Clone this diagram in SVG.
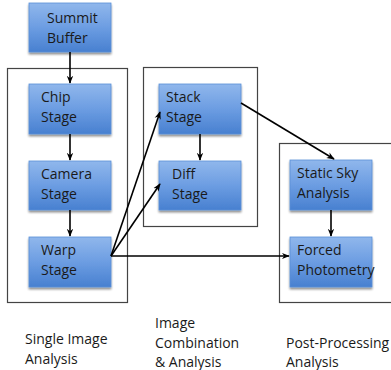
<svg xmlns="http://www.w3.org/2000/svg" width="391" height="370" viewBox="0 0 391 370">
<defs>
<linearGradient id="g" x1="0" y1="0" x2="0" y2="1">
<stop offset="0" stop-color="#90b7ec"/>
<stop offset="0.5" stop-color="#6c9de2"/>
<stop offset="1" stop-color="#4880d0"/>
</linearGradient>
<filter id="sh" x="-10%" y="-10%" width="130%" height="140%">
<feGaussianBlur in="SourceAlpha" stdDeviation="1.2"/>
<feOffset dx="0" dy="1.5" result="b"/>
<feComponentTransfer><feFuncA type="linear" slope="0.45"/></feComponentTransfer>
<feMerge><feMergeNode/><feMergeNode in="SourceGraphic"/></feMerge>
</filter>
<marker id="ah" viewBox="0 0 10 10" refX="9" refY="5" markerWidth="8" markerHeight="8" orient="auto" markerUnits="userSpaceOnUse">
<path d="M0,1 L10,5 L0,9 L3,5 Z" fill="#000"/>
</marker>
</defs>
<style>
.node{fill:url(#g);stroke:#5a8fd8;stroke-width:0.8;filter:url(#sh)}
.grp{fill:none;stroke:#444;stroke-width:1.2}
.t{font-family:"Open Sans","Liberation Sans",sans-serif;font-size:14px;fill:#1a1a1a}
.c{fill:none;stroke:#000;stroke-width:1.6;marker-end:url(#ah)}
</style>
<rect width="391" height="370" fill="#fff"/>
<g id="groups">
<rect class="grp" x="7.5" y="68.5" width="120" height="234"/>
<rect class="grp" x="143.5" y="67.5" width="114" height="159"/>
<rect class="grp" x="279.5" y="143.5" width="115" height="159"/>
</g>
<g id="summit"><rect class="node" x="29" y="3" width="82" height="49"/><text class="t" x="47" y="23">Summit</text><text class="t" x="47" y="43">Buffer</text></g>
<g id="chip"><rect class="node" x="29" y="84" width="82" height="50"/><text class="t" x="41" y="102">Chip</text><text class="t" x="41" y="122">Stage</text></g>
<g id="camera"><rect class="node" x="29" y="161" width="82" height="49"/><text class="t" x="41" y="179">Camera</text><text class="t" x="41" y="199">Stage</text></g>
<g id="warp"><rect class="node" x="29" y="237" width="82" height="50"/><text class="t" x="41" y="255">Warp</text><text class="t" x="41" y="275">Stage</text></g>
<g id="stack"><rect class="node" x="159" y="84" width="82" height="50"/><text class="t" x="166" y="102">Stack</text><text class="t" x="166" y="122">Stage</text></g>
<g id="diff"><rect class="node" x="159" y="161" width="82" height="49"/><text class="t" x="172" y="179">Diff</text><text class="t" x="172" y="199">Stage</text></g>
<g id="static"><rect class="node" x="290" y="160" width="82" height="50"/><text class="t" x="297" y="178">Static Sky</text><text class="t" x="297" y="198">Analysis</text></g>
<g id="forced"><rect class="node" x="290" y="237" width="82" height="50"/><text class="t" x="297" y="255">Forced</text><text class="t" x="297" y="275">Photometry</text></g>
<g id="connectors">
<line class="c" x1="70" y1="52" x2="70" y2="83"/>
<line class="c" x1="70" y1="134" x2="70" y2="160"/>
<line class="c" x1="70" y1="210" x2="70" y2="236"/>
<line class="c" x1="200" y1="134" x2="200" y2="160"/>
<line class="c" x1="331" y1="210" x2="331" y2="236"/>
<line class="c" x1="111" y1="256" x2="160" y2="112"/>
<line class="c" x1="111" y1="256" x2="160" y2="184"/>
<line class="c" x1="111" y1="256" x2="289" y2="256"/>
<line class="c" x1="241" y1="103" x2="334" y2="159"/>
</g>
<g id="labels">
<text class="t" x="25" y="344">Single Image</text>
<text class="t" x="25" y="364">Analysis</text>
<text class="t" x="155" y="328">Image</text>
<text class="t" x="155" y="348">Combination</text>
<text class="t" x="155" y="367">&amp; Analysis</text>
<text class="t" x="286" y="348">Post-Processing</text>
<text class="t" x="286" y="367">Analysis</text>
</g>
</svg>
